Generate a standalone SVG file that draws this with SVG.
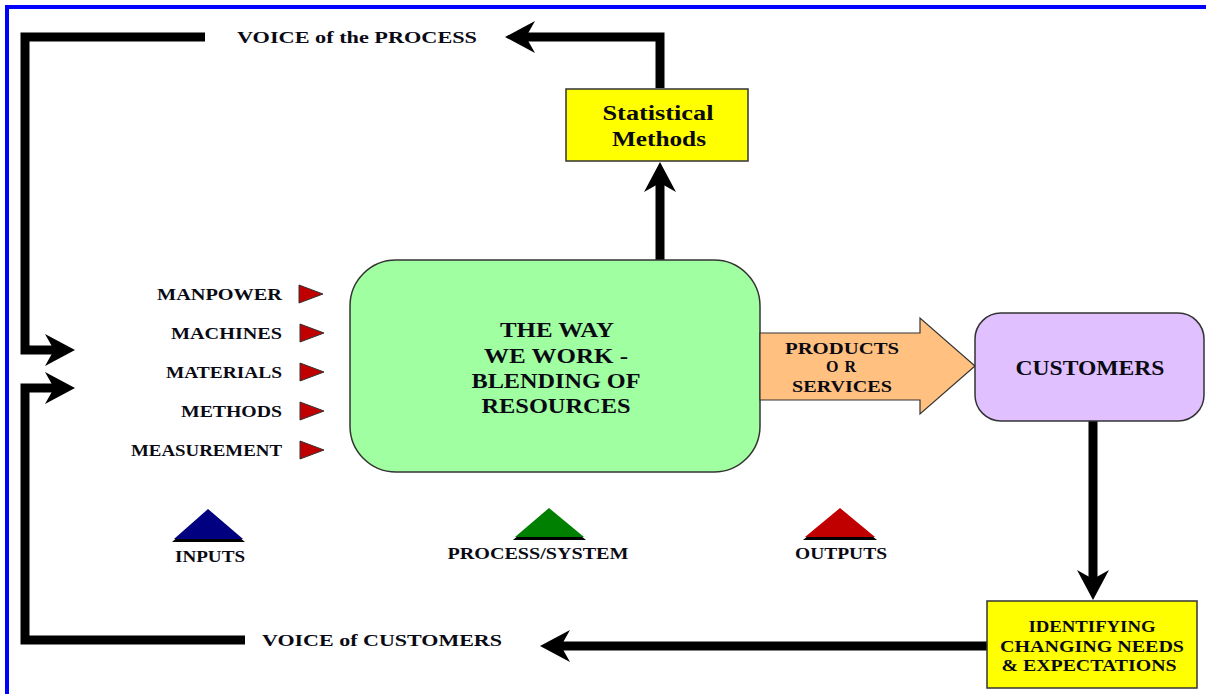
<svg xmlns="http://www.w3.org/2000/svg" width="1206" height="694" viewBox="0 0 1206 694">
  <style>
    .t { font-family: "Liberation Serif", "Times New Roman", serif; font-weight: bold; fill: #0a0a14; }
    .s14 { font-size: 16px; }
    .s18 { font-size: 20px; }
    .s20 { font-size: 21px; }
    .box { stroke: #333; stroke-width: 1.5; }
    .wire { fill: none; stroke: #000; stroke-width: 9; stroke-linejoin: miter; marker-end: url(#head); }
    .tri { fill: #c00000; stroke: #333; stroke-width: 1; }
  </style>
  <defs>
    <marker id="head" markerUnits="userSpaceOnUse" viewBox="0 -17 31 34" refX="10" refY="0" markerWidth="31" markerHeight="34" orient="auto" overflow="visible">
      <path d="M0,-16 L30,0 L0,16 L9,0 Z" fill="#000"/>
    </marker>
  </defs>

  <rect width="1206" height="694" fill="#fff"/>
  <!-- page frame -->
  <path d="M7,694 V7 H1206" fill="none" stroke="#0000ff" stroke-width="4"/>

  <!-- feedback connectors -->
  <g id="connectors">
    <path class="wire" d="M660,88 V37 H525"/>
    <path class="wire" d="M660,260 V182"/>
    <path class="wire" d="M205,37 H25 V350 H55"/>
    <path class="wire" d="M245,640 H25 V388 H55"/>
    <path class="wire" d="M1093,421 V580"/>
    <path class="wire" d="M987,646 H560"/>
  </g>

  <g id="voice-process">
    <text class="t s14" x="237" y="43" textLength="240" lengthAdjust="spacingAndGlyphs">VOICE  of  the PROCESS</text>
  </g>
  <g id="voice-customers">
    <text class="t s14" x="262" y="646" textLength="240" lengthAdjust="spacingAndGlyphs">VOICE  of  CUSTOMERS</text>
  </g>

  <g id="statistical-methods">
    <rect class="box" x="566" y="89" width="182" height="72" fill="#ffff00"/>
    <text class="t s18" x="658" y="120" text-anchor="middle" textLength="111" lengthAdjust="spacingAndGlyphs">Statistical</text>
    <text class="t s18" x="659" y="146" text-anchor="middle" textLength="94" lengthAdjust="spacingAndGlyphs">Methods</text>
  </g>

  <g id="process">
    <rect class="box" x="350" y="260" width="410" height="212" rx="46" ry="46" fill="#a0ffa0"/>
    <text class="t s20" x="557" y="337" text-anchor="middle" textLength="114" lengthAdjust="spacingAndGlyphs">THE WAY</text>
    <text class="t s20" x="556" y="363" text-anchor="middle" textLength="144" lengthAdjust="spacingAndGlyphs">WE WORK -</text>
    <text class="t s20" x="556" y="388" text-anchor="middle" textLength="169" lengthAdjust="spacingAndGlyphs">BLENDING OF</text>
    <text class="t s20" x="556" y="413" text-anchor="middle" textLength="149" lengthAdjust="spacingAndGlyphs">RESOURCES</text>
  </g>

  <g id="products">
    <path d="M760,333 H920 V318 L975,366 L920,414 V400 H760 Z" fill="#ffc080" stroke="#333" stroke-width="1.2"/>
    <text class="t s14" x="842" y="354" text-anchor="middle" textLength="114" lengthAdjust="spacingAndGlyphs">PRODUCTS</text>
    <text class="t s14" x="841" y="372" text-anchor="middle" textLength="30" lengthAdjust="spacing">OR</text>
    <text class="t s14" x="842" y="392" text-anchor="middle" textLength="100" lengthAdjust="spacingAndGlyphs">SERVICES</text>
  </g>

  <g id="customers">
    <rect class="box" x="975" y="313" width="229" height="108" rx="26" ry="26" fill="#e0c0ff"/>
    <text class="t s20" x="1090" y="375" text-anchor="middle" textLength="149" lengthAdjust="spacingAndGlyphs">CUSTOMERS</text>
  </g>

  <g id="identifying">
    <rect class="box" x="987" y="601" width="210" height="87" fill="#ffff00"/>
    <text class="t s14" x="1092" y="632" text-anchor="middle" textLength="127" lengthAdjust="spacingAndGlyphs">IDENTIFYING</text>
    <text class="t s14" x="1092" y="652" text-anchor="middle" textLength="184" lengthAdjust="spacingAndGlyphs">CHANGING NEEDS</text>
    <text class="t s14" x="1089" y="671" text-anchor="middle" textLength="175" lengthAdjust="spacingAndGlyphs">&amp; EXPECTATIONS</text>
  </g>

  <g id="inputs">
    <text class="t s14" x="282" y="300" text-anchor="end" textLength="125" lengthAdjust="spacingAndGlyphs">MANPOWER</text>
    <text class="t s14" x="282" y="339" text-anchor="end" textLength="111" lengthAdjust="spacingAndGlyphs">MACHINES</text>
    <text class="t s14" x="282" y="378" text-anchor="end" textLength="116" lengthAdjust="spacingAndGlyphs">MATERIALS</text>
    <text class="t s14" x="282" y="417" text-anchor="end" textLength="101" lengthAdjust="spacingAndGlyphs">METHODS</text>
    <text class="t s14" x="282" y="456" text-anchor="end" textLength="151" lengthAdjust="spacingAndGlyphs">MEASUREMENT</text>
    <polygon class="tri" points="299,285 323,294 299,303"/>
    <polygon class="tri" points="300,324 324,333 300,342"/>
    <polygon class="tri" points="300,363 324,372 300,381"/>
    <polygon class="tri" points="300,402 324,411 300,420"/>
    <polygon class="tri" points="300,441 324,450 300,459"/>
  </g>

  <g id="legend-inputs">
    <polygon points="208,511 172,542 245,542" fill="#000"/>
    <polygon points="208,509 174,539 243,539" fill="#000080"/>
    <text class="t s14" x="210" y="562" text-anchor="middle" textLength="70" lengthAdjust="spacingAndGlyphs">INPUTS</text>
  </g>
  <g id="legend-process">
    <polygon points="549,510 513,540 586,540" fill="#000"/>
    <polygon points="549,508 515,537 584,537" fill="#008000"/>
    <text class="t s14" x="538" y="559" text-anchor="middle" textLength="181" lengthAdjust="spacingAndGlyphs">PROCESS/SYSTEM</text>
  </g>
  <g id="legend-outputs">
    <polygon points="840,510 803,540 877,540" fill="#000"/>
    <polygon points="840,508 805,537 875,537" fill="#c00000"/>
    <text class="t s14" x="841" y="559" text-anchor="middle" textLength="92" lengthAdjust="spacingAndGlyphs">OUTPUTS</text>
  </g>
</svg>
